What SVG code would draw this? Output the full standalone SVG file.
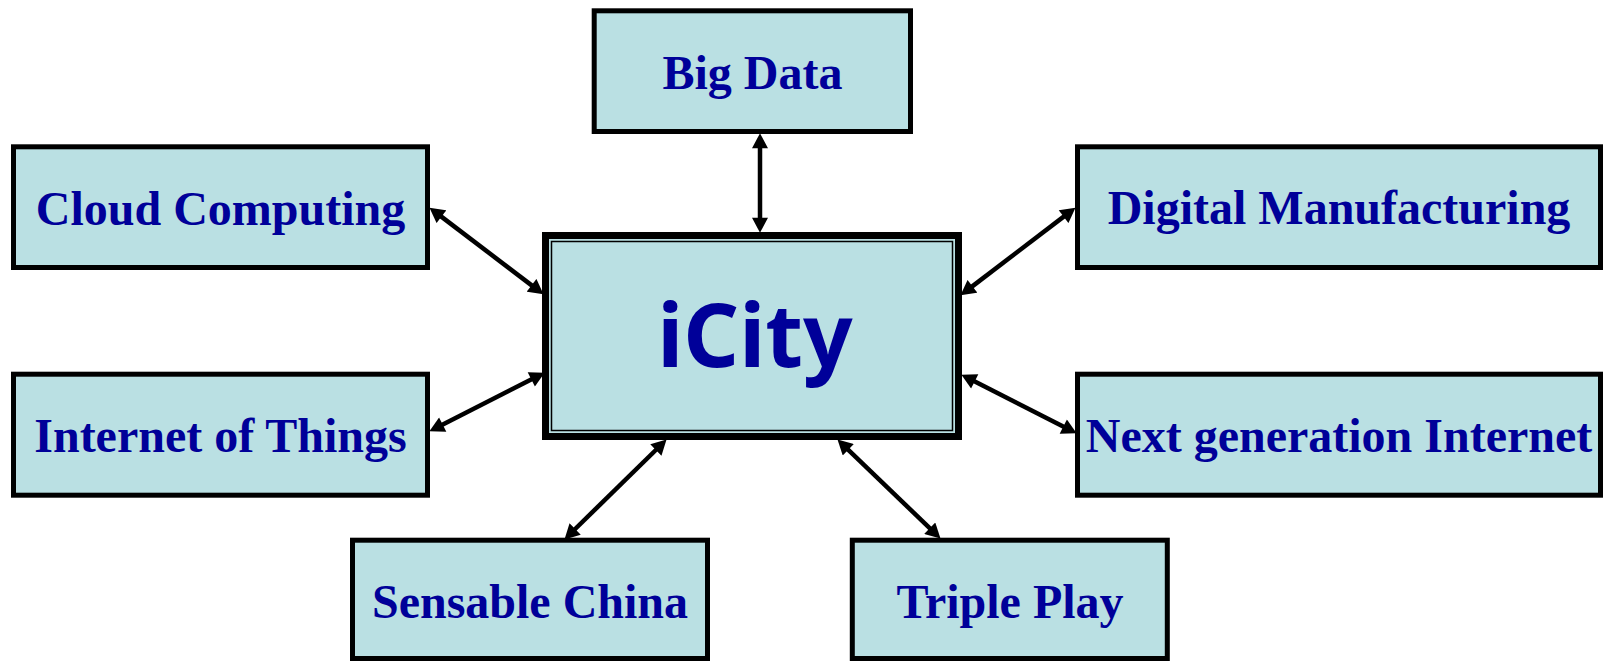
<svg xmlns="http://www.w3.org/2000/svg" width="1604" height="661" viewBox="0 0 1604 661">
<style>
.box{fill:#BAE0E3;stroke:#000;stroke-width:5}
.lbl{font-family:"Liberation Serif","Times New Roman",serif;font-weight:bold;font-size:48px;fill:#000099;text-anchor:middle}
.main{font-family:"Noto Sans","Open Sans",sans-serif;font-weight:bold;font-size:87px;fill:#000099;text-anchor:middle}
.conn{stroke:#000;stroke-width:4.5;fill:none;marker-start:url(#ah);marker-end:url(#ah)}
</style>
<defs>
<marker id="ah" markerUnits="userSpaceOnUse" markerWidth="16" markerHeight="16" viewBox="0 0 14 15" refX="4" refY="7.5" orient="auto-start-reverse">
<path d="M0,0 L14,7.5 L0,15 z" fill="#000"/>
</marker>
</defs>
<rect width="1604" height="661" fill="#fff"/>
<g id="connectors">
<line class="conn" x1="760" y1="144" x2="760" y2="222"/>
<line class="conn" x1="438" y1="214.1" x2="535" y2="287.9"/>
<line class="conn" x1="438.9" y1="426.5" x2="535.1" y2="377.5"/>
<line class="conn" x1="969" y1="288.9" x2="1067" y2="214.1"/>
<line class="conn" x1="970.9" y1="379.5" x2="1067.1" y2="428.5"/>
<line class="conn" x1="658.9" y1="447" x2="572.1" y2="532"/>
<line class="conn" x1="845.2" y1="446.9" x2="932.8" y2="531.1"/>
</g>
<g id="icity">
<rect x="545.5" y="235.5" width="413" height="201" fill="#BAE0E3" stroke="#000" stroke-width="7"/>
<rect x="551.5" y="241.5" width="401" height="189" fill="none" stroke="#000" stroke-width="1.5"/>
<text class="main" x="755" y="367">iCity</text>
</g>
<g id="bigdata">
<rect class="box" x="594.2" y="10.8" width="316.3" height="120.7"/>
<text class="lbl" x="752.4" y="89">Big Data</text>
</g>
<g id="cloud">
<rect class="box" x="13.5" y="146.8" width="414" height="120.7"/>
<text class="lbl" x="220.5" y="225">Cloud Computing</text>
</g>
<g id="iot">
<rect class="box" x="13.5" y="374.2" width="414" height="121"/>
<text class="lbl" x="220.5" y="452">Internet of Things</text>
</g>
<g id="digital">
<rect class="box" x="1077.5" y="146.8" width="523" height="120.7"/>
<text class="lbl" x="1339" y="224">Digital Manufacturing</text>
</g>
<g id="nextgen">
<rect class="box" x="1077.5" y="374.2" width="523" height="121"/>
<text class="lbl" x="1339" y="452">Next generation Internet</text>
</g>
<g id="sensable">
<rect class="box" x="352.5" y="540.2" width="355" height="118.3"/>
<text class="lbl" x="530" y="618">Sensable China</text>
</g>
<g id="triple">
<rect class="box" x="852.3" y="540.2" width="315" height="118.3"/>
<text class="lbl" x="1010" y="618">Triple Play</text>
</g>
</svg>
